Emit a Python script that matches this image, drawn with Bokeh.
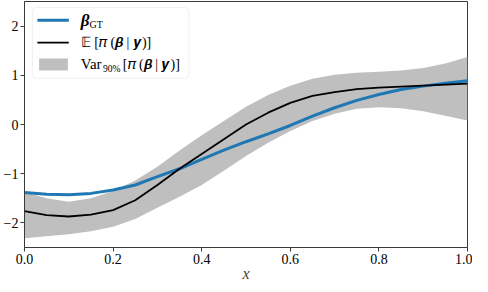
from bokeh.plotting import figure
from bokeh.models import Range1d, FixedTicker, BoxAnnotation, Label
from bokeh.embed import file_html
from bokeh.resources import INLINE

# ---- data ----
x_vals = [0.0, 0.05, 0.1, 0.15, 0.2, 0.25, 0.3, 0.35, 0.4, 0.45, 0.5,
          0.55, 0.6, 0.65, 0.7, 0.75, 0.8, 0.85, 0.9, 0.95, 1.0]
beta_gt = [-1.38, -1.42, -1.43, -1.40, -1.33, -1.23, -1.06, -0.90, -0.71, -0.52, -0.35,
           -0.19, -0.02, 0.17, 0.34, 0.49, 0.61, 0.71, 0.78, 0.84, 0.89]
post_mean = [-1.76, -1.84, -1.87, -1.83, -1.74, -1.54, -1.23, -0.90, -0.60, -0.30, 0.00,
             0.24, 0.44, 0.58, 0.66, 0.72, 0.75, 0.77, 0.79, 0.81, 0.83]
band_lower = [-2.31, -2.27, -2.23, -2.17, -2.08, -1.92, -1.69, -1.47, -1.23, -0.94, -0.64,
              -0.37, -0.13, 0.07, 0.22, 0.32, 0.35, 0.33, 0.27, 0.18, 0.08]
band_upper = [-1.37, -1.50, -1.57, -1.50, -1.35, -1.14, -0.86, -0.53, -0.22, 0.07, 0.36,
              0.60, 0.79, 0.93, 1.01, 1.05, 1.07, 1.10, 1.15, 1.24, 1.37]

x_ticks = [0.0, 0.2, 0.4, 0.6, 0.8, 1.0]
x_tick_labels = ["0.0", "0.2", "0.4", "0.6", "0.8", "1.0"]
y_ticks = [-2, -1, 0, 1, 2]
y_tick_labels = ["\u22122", "\u22121", "0", "1", "2"]
x_axis_title = "x"

FONT = "Liberation Serif"
BLUE = "#1f77b4"
GREY = "#bfbfbf"
AX = "#3a3a3a"

p = figure(width=472, height=284, x_range=Range1d(0, 1), y_range=Range1d(-2.5, 2.5),
           output_backend="svg", toolbar_location=None,
           min_border_left=4, min_border_right=5, min_border_top=1, min_border_bottom=0)
p.grid.visible = False
p.outline_line_color = AX
p.outline_line_width = 1
p.background_fill_color = "white"

p.varea(x=x_vals, y1=band_lower, y2=band_upper, fill_color=GREY, fill_alpha=1.0)
p.line(x_vals, beta_gt, line_color=BLUE, line_width=3)
p.line(x_vals, post_mean, line_color="black", line_width=1.8)

for ax in (p.xaxis[0], p.yaxis[0]):
    ax.axis_line_color = AX
    ax.major_tick_line_color = AX
    ax.minor_tick_line_color = None
    ax.major_tick_out = 4
    ax.major_tick_in = 0
    ax.major_label_standoff = 2
    ax.major_label_text_font = FONT
    ax.major_label_text_font_size = "14px"
    ax.major_label_text_color = "black"

p.xaxis.ticker = FixedTicker(ticks=x_ticks)
p.xaxis.major_label_overrides = {t: l for t, l in zip(x_ticks, x_tick_labels)}
p.yaxis.ticker = FixedTicker(ticks=y_ticks)
p.yaxis.major_label_overrides = {t: l for t, l in zip(y_ticks, y_tick_labels)}
p.xaxis.axis_label = x_axis_title
p.xaxis.axis_label_text_font = FONT
p.xaxis.axis_label_text_font_style = "italic"
p.xaxis.axis_label_text_font_size = "16px"
p.xaxis.axis_label_standoff = -2

# ---- legend (manual, to allow math-like sub-scripts) ----
p.add_layout(BoxAnnotation(left=0.018, right=0.371, top=2.38, bottom=0.94,
                           fill_color="white", fill_alpha=0.85,
                           line_color="#cccccc", line_width=1, border_radius=4))
p.add_layout(BoxAnnotation(left=0.029, right=0.100, top=2.15, bottom=2.09,
                           fill_color=BLUE, fill_alpha=1, line_color=None))
p.add_layout(BoxAnnotation(left=0.029, right=0.100, top=1.68, bottom=1.644,
                           fill_color="black", fill_alpha=1, line_color=None))
p.add_layout(BoxAnnotation(left=0.033, right=0.098, top=1.34, bottom=1.10,
                           fill_color=GREY, fill_alpha=1, line_color=None))

def lab(x, y, t, size="15px", style="normal"):
    p.add_layout(Label(x=x, y=y, text=t, text_font=FONT, text_font_size=size,
                       text_font_style=style, text_baseline="middle", text_color="black"))

lab(0.127, 2.12, "\u03b2", "17px", "bold italic")
lab(0.147, 2.03, "GT", "10px")
lab(0.127, 1.66, "\U0001D53C [\U0001D70B (\U0001D737 | \U0001D49A)]", "14px")
lab(0.127, 1.22, "Var", "15px")
lab(0.177, 1.13, "90%", "9.5px")
lab(0.222, 1.22, "[\U0001D70B (\U0001D737 | \U0001D49A)]", "14px")

open("out.html", "w").write(file_html(p, INLINE))
